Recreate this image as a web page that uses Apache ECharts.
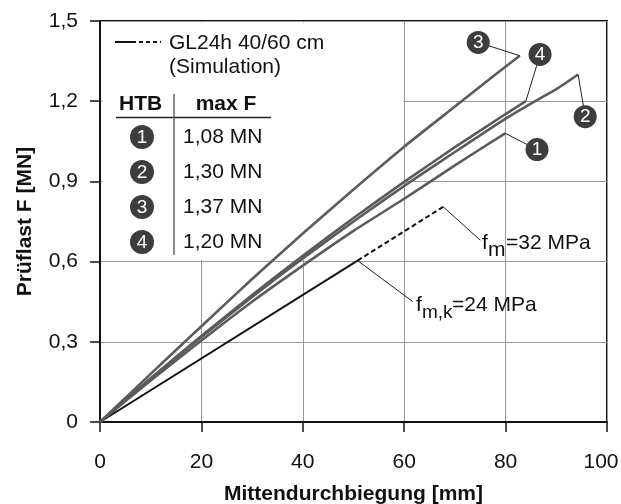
<!DOCTYPE html>
<html>
<head>
<meta charset="utf-8">
<script src="https://cdn.jsdelivr.net/npm/echarts@6/dist/echarts.min.js"></script>
<style>
  html, body { margin: 0; padding: 0; background: #fff; }
  #chart { width: 621px; height: 504px; }
</style>
</head>
<body>
<div id="chart"></div>
<script>
const FONT = '"Liberation Sans", Arial, sans-serif'

// Mittendurchbiegung [mm] / Prüflast [MN]
const htb1X = [0, 10, 20, 30, 40, 50, 60, 70, 79.9]
const htb1Y = [0, 0.155, 0.305, 0.45, 0.585, 0.715, 0.835, 0.96, 1.08]
const htb2X = [0, 10, 20, 30, 40, 50, 60, 70, 80, 84, 90, 94.3]
const htb2Y = [0, 0.162, 0.318, 0.468, 0.612, 0.75, 0.883, 1.01, 1.135, 1.18, 1.245, 1.30]
const htb3X = [0, 10, 20, 30, 40, 50, 60, 70, 78, 82.8]
const htb3Y = [0, 0.18, 0.358, 0.535, 0.705, 0.87, 1.03, 1.18, 1.30, 1.37]
const htb4X = [0, 10, 20, 30, 40, 50, 60, 70, 80, 84]
const htb4Y = [0, 0.164, 0.322, 0.475, 0.622, 0.763, 0.898, 1.028, 1.152, 1.20]

// GL24h simulation: solid up to f_m,k, dashed up to f_m
const simX = [0, 50.8, 67.7]
const simY = [0, 0.604, 0.805]

const htbNames = ['1', '2', '3', '4']
const maxF = ['1,08 MN', '1,30 MN', '1,37 MN', '1,20 MN']

// callout circles in the plot (data coords)
const calloutX = [86.2, 95.7, 74.6, 86.8]
const calloutY = [1.019, 1.142, 1.42, 1.375]
// where the simulation leaders end
const fmAnchor = [75, 0.68]
const fmkAnchor = [61.7, 0.45]

const xMin = 0, xMax = 100, xStep = 20
const yMin = 0, yMax = 1.5, yStep = 0.3

const pts = (xs, ys) => xs.map((x, i) => [x, ys[i]])
const last = (xs, ys) => [xs[xs.length - 1], ys[ys.length - 1]]

const curves = [[htb1X, htb1Y], [htb2X, htb2Y], [htb3X, htb3Y], [htb4X, htb4Y]]

function txt(x, y, text, extra) {
  return {
    type: 'text', x, y, z: 20,
    style: Object.assign({
      text, font: '21px ' + FONT, fill: '#111',
      textVerticalAlign: 'middle', verticalAlign: 'middle'
    }, extra || {})
  }
}

const legendEls = [
  { type: 'line', z: 20, shape: { x1: 115, y1: 42, x2: 136, y2: 42 }, style: { stroke: '#111', lineWidth: 2 } },
  { type: 'line', z: 20, shape: { x1: 139, y1: 42, x2: 161, y2: 42 }, style: { stroke: '#111', lineWidth: 2, lineDash: [4, 3] } },
  txt(169, 43, 'GL24h 40/60 cm'),
  txt(169, 67, '(Simulation)'),
  txt(119, 104, 'HTB', { font: 'bold 21px ' + FONT }),
  txt(226, 104, 'max F', { font: 'bold 21px ' + FONT, textAlign: 'center', align: 'center' }),
  { type: 'line', z: 20, shape: { x1: 116, y1: 117.5, x2: 271, y2: 117.5 }, style: { stroke: '#222', lineWidth: 1.5 } },
  { type: 'line', z: 20, shape: { x1: 174, y1: 94, x2: 174, y2: 255 }, style: { stroke: '#666', lineWidth: 1.5 } }
]
maxF.forEach((v, i) => {
  const y = 137 + i * 35
  legendEls.push({ type: 'circle', z: 20, shape: { cx: 142, cy: y, r: 12 }, style: { fill: '#3d3d3d' } })
  legendEls.push(txt(142, y + 1, htbNames[i], { fill: '#fff', font: '19px ' + FONT, textAlign: 'center', align: 'center' }))
  legendEls.push(txt(183, y, v))
})

// f_m / f_m,k labels with subscripts
legendEls.push(
  txt(482, 243, 'f'), txt(488, 250, 'm'), txt(506, 243, '=32 MPa'),
  txt(416, 305, 'f'), txt(422, 313, 'm,k', { font: '19px ' + FONT }), txt(452, 305, '=24 MPa')
)

const lineSeries = curves.map(([xs, ys], i) => ({
  name: 'HTB ' + htbNames[i],
  type: 'line',
  z: 3,
  data: pts(xs, ys),
  showSymbol: false,
  smooth: 0.2,
  lineStyle: { color: '#5b5b5b', width: 2.6 }
}))

const leaders = curves.map(([xs, ys], i) => [
  { coord: last(xs, ys) },
  { coord: [calloutX[i], calloutY[i]] }
])
leaders.push([{ coord: [simX[2], simY[2]] }, { coord: fmAnchor }])
leaders.push([{ coord: [simX[1], simY[1]] }, { coord: fmkAnchor }])

const chart = echarts.init(document.getElementById('chart'), null, { renderer: 'canvas' })

chart.setOption({
  animation: false,
  textStyle: { fontFamily: FONT },
  grid: {
    left: 100, right: 14, top: 21, bottom: 82,
    outerBoundsMode: 'none', containLabel: false,
    show: true, borderColor: '#111', borderWidth: 2, backgroundColor: 'transparent'
  },
  xAxis: {
    type: 'value', min: xMin, max: xMax, interval: xStep,
    name: 'Mittendurchbiegung [mm]', nameLocation: 'middle', nameGap: 62,
    nameTextStyle: { fontWeight: 'bold', fontSize: 21, color: '#111', fontFamily: FONT },
    axisLine: { lineStyle: { color: '#111', width: 2 } },
    axisTick: { length: 10, lineStyle: { color: '#111', width: 1.5 } },
    axisLabel: {
      fontSize: 21, color: '#111', margin: 30, fontFamily: FONT,
      // last label pulled in a little so it is not cut at the edge
      formatter: (v) => (v === xMax ? '{r|' + v + '}' : String(v)),
      rich: { r: { fontSize: 21, color: '#111', fontFamily: FONT, padding: [0, 12, 0, 0] } }
    },
    splitLine: { lineStyle: { color: '#999', width: 1 } }
  },
  yAxis: {
    type: 'value', min: yMin, max: yMax, interval: yStep,
    name: 'Prüflast F [MN]', nameLocation: 'middle', nameGap: 64,
    nameTextStyle: { fontWeight: 'bold', fontSize: 21, color: '#111', fontFamily: FONT },
    axisLine: { show: true, lineStyle: { color: '#111', width: 2 } },
    axisTick: { show: true, length: 10, lineStyle: { color: '#111', width: 1.5 } },
    axisLabel: {
      fontSize: 21, color: '#111', margin: 22, fontFamily: FONT,
      formatter: (v) => (v === 0 ? '0' : v.toFixed(1).replace('.', ','))
    },
    splitLine: { lineStyle: { color: '#999', width: 1 } }
  },
  graphic: legendEls,
  series: [
    {
      // white panel behind the legend table, hides the grid there
      type: 'line', z: 1, silent: true,
      data: [[0, 0]], showSymbol: false, lineStyle: { opacity: 0 },
      markArea: {
        silent: true,
        itemStyle: { color: '#fff' },
        data: [[{ coord: [0.5, 0.606] }, { coord: [59.8, 1.494] }]]
      }
    },
    {
      name: 'GL24h', type: 'line', z: 3, showSymbol: false,
      data: pts(simX.slice(0, 2), simY.slice(0, 2)),
      lineStyle: { color: '#111', width: 2 }
    },
    {
      name: 'GL24h dashed', type: 'line', z: 3, showSymbol: false,
      data: pts(simX.slice(1), simY.slice(1)),
      lineStyle: { color: '#111', width: 2, type: [5, 3] }
    },
    ...lineSeries,
    {
      type: 'line', z: 4, silent: true, data: [], showSymbol: false,
      markLine: {
        silent: true, symbol: ['none', 'none'], animation: false,
        label: { show: false },
        lineStyle: { color: '#222', width: 1, type: 'solid' },
        data: leaders
      }
    },
    {
      type: 'scatter', z: 5, silent: true,
      symbolSize: 23,
      itemStyle: { color: '#3d3d3d', opacity: 1 },
      label: { show: true, position: 'inside', color: '#fff', fontSize: 19, fontFamily: FONT, formatter: (p) => p.name },
      data: calloutX.map((x, i) => ({ name: htbNames[i], value: [x, calloutY[i]] }))
    }
  ]
})

window.addEventListener('resize', () => chart.resize())
</script>
</body>
</html>
